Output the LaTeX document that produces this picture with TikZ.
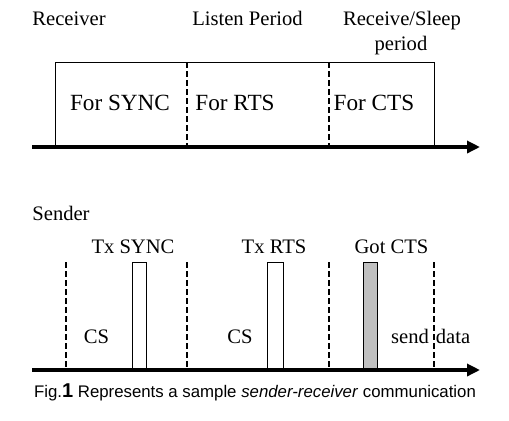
\documentclass[tikz,border=0pt]{standalone}
\usepackage{fontspec}
\setmainfont{Liberation Serif}
\newfontfamily\capfont{Liberation Sans}
\usetikzlibrary{arrows.meta,positioning}
\definecolor{slotgray}{HTML}{C0C0C0}
\tikzset{
  timeAxis/.style={line width=2pt, -{Triangle[length=6.5pt,width=6pt]}},
  slotLine/.style={line width=0.8pt, dash pattern=on 3pt off 1.5pt},
  periodLabel/.style={font=\fontsize{10.3}{12}\selectfont, inner sep=0pt},
  slotLabel/.style={font=\fontsize{11.6}{13}\selectfont, inner sep=0pt},
  pulseBox/.style={draw, line width=0.5pt, fill=white}
}

\begin{document}
\begin{tikzpicture}[x=0.5pt,y=-0.5pt]
  \useasboundingbox (0,0) rectangle (509,420);
  % receiver side
  \node[periodLabel, anchor=base west] (rcv) at (32,25) {Receiver};
  \node[periodLabel, anchor=base] (listen) at (247.5,25) {Listen Period};
  \node[periodLabel, anchor=base] (rcvSleep) at (402,25) {Receive/Sleep};
  \node[periodLabel, anchor=base] (rcvSleepB) at (401,50) {period};
  \draw[line width=0.5pt] (55,147) |- (434,62) -- (434,147);
  \draw[slotLine] (187,62) -- (187,147);
  \draw[slotLine] (329,62) -- (329,147);
  \node[slotLabel, anchor=base] (forSync) at (120,110) {For SYNC};
  \node[slotLabel, anchor=base] (forRts) at (235,110) {For RTS};
  \node[slotLabel, anchor=base] (forCts) at (374,110) {For CTS};
  \coordinate (rAxisA) at (32,147);
  \coordinate (rAxisB) at (480,147);
  \draw[timeAxis] (rAxisA) -- (rAxisB);
  % sender side
  \node[periodLabel, anchor=base west] (snd) at (32,220) {Sender};
  \node[periodLabel, anchor=base] (txSync) at (133,253) {Tx SYNC};
  \node[periodLabel, anchor=base] (txRts) at (274,253) {Tx RTS};
  \node[periodLabel, anchor=base] (gotCts) at (391.5,253) {Got CTS};
  \foreach \xs in {66,187,329,434}
    \draw[slotLine] (\xs,262) -- (\xs,370);
  \draw[pulseBox] (132,262) rectangle (146,370);
  \draw[pulseBox] (267,262) rectangle (283,370);
  \draw[pulseBox, fill=slotgray] (363,262) rectangle (377,370);
  \node[periodLabel, anchor=base] (csA) at (96.5,343) {CS};
  \node[periodLabel, anchor=base] (csB) at (240,343) {CS};
  \node[periodLabel, anchor=base] (sendW) at (410,343) {send};
  \node[periodLabel, anchor=base] (dataW) at (453,343) {data};
  \coordinate (sAxisA) at (32,370);
  \coordinate (sAxisB) at (480,370);
  \draw[timeAxis] (sAxisA) -- (sAxisB);
  % caption
  \node[font=\capfont\fontsize{8.4}{10}\selectfont, inner sep=0pt, anchor=base] (figCap) at (255,397)
    {Fig.\textbf{\fontsize{10}{10}\selectfont 1} Represents a sample \textit{sender-receiver} communication};
\end{tikzpicture}
\end{document}
